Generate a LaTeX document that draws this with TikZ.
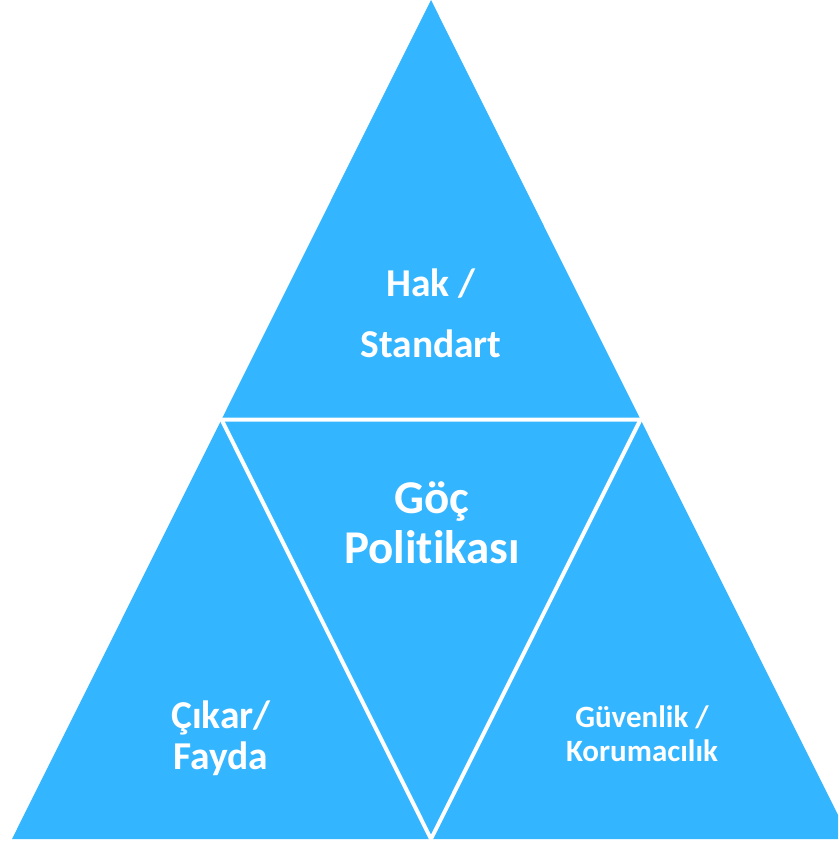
\documentclass[tikz,border=0pt]{standalone}
\usepackage{fontspec}
\setmainfont{Carlito}[Ligatures={NoCommon}]
\definecolor{triblue}{RGB}{51,181,255}
\begin{document}
\begin{tikzpicture}[x=1pt,y=-1pt,
  lbl/.style={text=white,font=\bfseries,align=center,inner sep=0pt,anchor=center}]
\useasboundingbox (0,0) rectangle (838,842);
\clip (0,0) rectangle (838,842);
\fill[triblue] (431,0) -- (12,839) -- (850,839) -- cycle;
\draw[white,line width=4pt,line join=miter] (221.5,419.5) -- (640.5,419.5) -- (431,839) -- cycle;
\node[lbl,font=\bfseries\fontsize{39.5}{61}\selectfont] (hak) at (431,313) {Hak /\\Standart};
\node[lbl,font=\bfseries\fontsize{47}{50}\selectfont] (goc) at (432,523) {Göç\\Politikası};
\node[lbl,font=\bfseries\fontsize{39.5}{41}\selectfont] (cikar) at (221,738) {Çıkar/\\Fayda};
\node[lbl,font=\bfseries\fontsize{31}{34}\selectfont] (guv) at (642,734) {Güvenlik /\\Korumacılık};
\end{tikzpicture}
\end{document}
